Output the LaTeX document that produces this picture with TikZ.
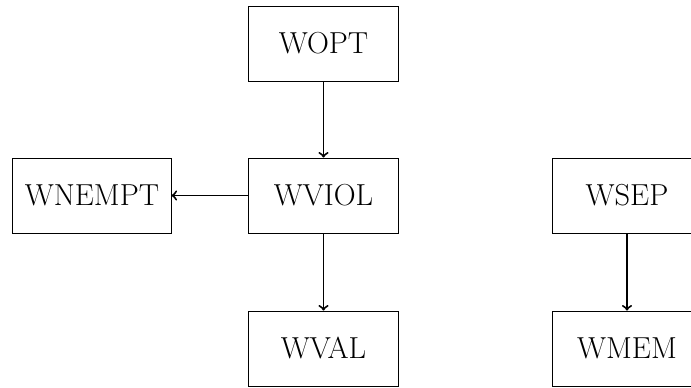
\documentclass[tikz,border=0pt]{standalone}
\usetikzlibrary{arrows}
\begin{document}
\begin{tikzpicture}[x=0.02cm,y=-0.02cm,
  box/.style={draw,line width=0.5pt,minimum width=3cm,minimum height=1.5cm,inner sep=6.8pt,font=\LARGE},
  conn/.style={->,line width=1.1pt}]
\useasboundingbox (0,0) rectangle (691,387);
\node[box] (wopt) at (323.5,43.5) {WOPT};
\node[box] (wviol) at (323.5,195.5) {WVIOL};
\node[box] (wnempt) at (92,195.5) {WNEMPT};
\node[box] (wval) at (323.5,348.5) {WVAL};
\node[box] (wsep) at (627,195.5) {WSEP};
\node[box] (wmem) at (627,348.5) {WMEM};
\draw[conn] (wopt) -- (wviol);
\draw[conn] (wviol) -- (wnempt);
\draw[conn] (wviol) -- (wval);
\draw[conn] (wsep) -- (wmem);
\end{tikzpicture}
\end{document}
